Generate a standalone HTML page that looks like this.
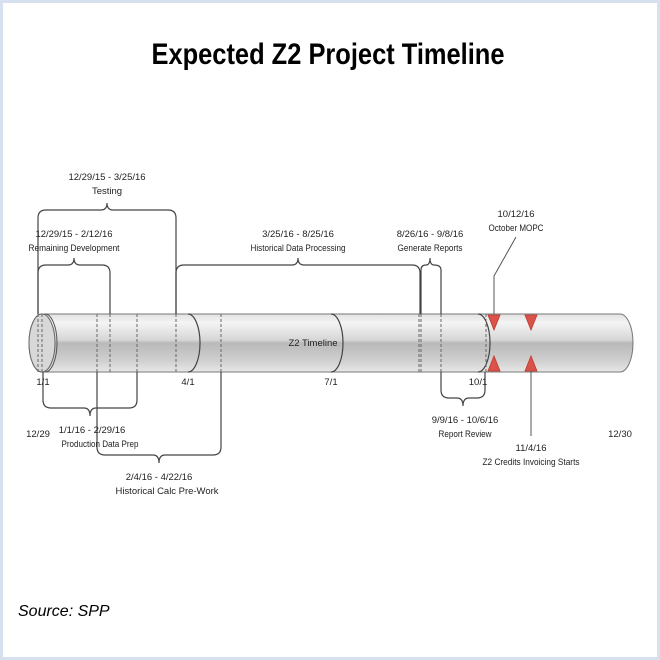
<!DOCTYPE html>
<html><head><meta charset="utf-8"><style>
html,body{margin:0;padding:0;background:#fff}
svg{display:block}
text{font-family:"Liberation Sans",sans-serif;fill:#222}
.s{font-size:9.5px}
</style></head><body>
<svg width="660" height="660" viewBox="0 0 660 660" xmlns="http://www.w3.org/2000/svg">
<defs>
<linearGradient id="cyl" x1="0" y1="0" x2="0" y2="1">
<stop offset="0" stop-color="#e2e2e2"/>
<stop offset="0.15" stop-color="#f4f4f4"/>
<stop offset="0.45" stop-color="#d6d6d6"/>
<stop offset="0.5" stop-color="#b9b9b9"/>
<stop offset="0.8" stop-color="#cfcfcf"/>
<stop offset="1" stop-color="#e8e8e8"/>
</linearGradient>
</defs>
<rect x="1.5" y="1.5" width="657" height="657" fill="#fff" stroke="#d6e0ee" stroke-width="3"/>
<text x="328" y="64" text-anchor="middle" font-size="30" font-weight="bold" textLength="353" lengthAdjust="spacingAndGlyphs" style="fill:#000">Expected Z2 Project Timeline</text>

<!-- cylinder -->
<path d="M42 314 H620 A13 29 0 0 1 620 372 H42 A13 29 0 0 1 42 314 Z" fill="url(#cyl)" stroke="#777" stroke-width="1"/>
<ellipse cx="42" cy="343" rx="13" ry="29" fill="#d8d8d8" stroke="#666" stroke-width="1"/>
<path d="M45 314 A12 29 0 0 1 45 372" fill="none" stroke="#555" stroke-width="1"/>
<g fill="none" stroke="#444" stroke-width="1.2">
<path d="M188 314 A12 29 0 0 1 188 372"/>
<path d="M331 314 A12 29 0 0 1 331 372"/>
<path d="M478 314 A12 29 0 0 1 478 372"/>
</g>
<g stroke="#666" stroke-width="1" stroke-dasharray="3,2">
<line x1="38" y1="314" x2="38" y2="372"/><line x1="42" y1="314" x2="42" y2="372"/>
<line x1="97" y1="314" x2="97" y2="372"/><line x1="110" y1="314" x2="110" y2="372"/>
<line x1="137" y1="314" x2="137" y2="372"/><line x1="176" y1="314" x2="176" y2="372"/>
<line x1="221" y1="314" x2="221" y2="372"/><line x1="419" y1="314" x2="419" y2="372"/>
<line x1="421" y1="314" x2="421" y2="372"/><line x1="441" y1="314" x2="441" y2="372"/>
<line x1="486" y1="314" x2="486" y2="372"/>
</g>
<text class="s" x="313" y="346" text-anchor="middle">Z2 Timeline</text>

<!-- triangles -->
<g fill="#d9534a" stroke="#c0392b" stroke-width="0.8">
<path d="M488 315 H500 L494 330 Z"/><path d="M525 315 H537 L531 330 Z"/>
<path d="M488 371 H500 L494 356 Z"/><path d="M525 371 H537 L531 356 Z"/>
</g>
<g fill="none" stroke="#555" stroke-width="1">
<path d="M494 314 V276 L516 237"/>
<path d="M531 371 V436"/>
</g>

<!-- braces -->
<g fill="none" stroke="#444" stroke-width="1.2">
<path d="M38 314 V218 Q38 210 46 210 H101 Q107 210 107 203 Q107 210 113 210 H168 Q176 210 176 218 V314"/>
<path d="M38 314 V273 Q38 265 46 265 H68 Q74 265 74 258 Q74 265 80 265 H102 Q110 265 110 273 V314"/>
<path d="M176 314 V273 Q176 265 184 265 H292 Q298 265 298 258 Q298 265 304 265 H412 Q420 265 420 273 V314"/>
<path d="M421 314 V270 Q421 265 426 265 Q430 265 430 258 Q430 265 434 265 Q441 265 441 270 V314"/>
<path d="M43 372 V400 Q43 408 51 408 H84 Q90 408 90 416 Q90 408 96 408 H129 Q137 408 137 400 V372"/>
<path d="M97 372 V447 Q97 455 105 455 H153 Q159 455 159 463 Q159 455 165 455 H213 Q221 455 221 447 V372"/>
<path d="M441 372 V390 Q441 398 449 398 H457 Q463 398 463 406 Q463 398 469 398 H477 Q485 398 485 390 V372"/>
</g>

<!-- labels -->
<g class="s" text-anchor="middle">
<text class="s" x="107" y="180">12/29/15 - 3/25/16</text>
<text class="s" x="107" y="194">Testing</text>
<text class="s" x="74" y="237">12/29/15 - 2/12/16</text>
<text class="s" x="74" y="251" textLength="91" lengthAdjust="spacingAndGlyphs">Remaining Development</text>
<text class="s" x="298" y="237">3/25/16 - 8/25/16</text>
<text class="s" x="298" y="251" textLength="95" lengthAdjust="spacingAndGlyphs">Historical Data Processing</text>
<text class="s" x="430" y="237">8/26/16 - 9/8/16</text>
<text class="s" x="430" y="251" textLength="65" lengthAdjust="spacingAndGlyphs">Generate Reports</text>
<text class="s" x="516" y="217">10/12/16</text>
<text class="s" x="516" y="231" textLength="55" lengthAdjust="spacingAndGlyphs">October MOPC</text>
<text class="s" x="43" y="385">1/1</text>
<text class="s" x="188" y="385">4/1</text>
<text class="s" x="331" y="385">7/1</text>
<text class="s" x="478" y="385">10/1</text>
<text class="s" x="38" y="437">12/29</text>
<text class="s" x="620" y="437">12/30</text>
<text class="s" x="92" y="433">1/1/16 - 2/29/16</text>
<text class="s" x="100" y="447" textLength="77" lengthAdjust="spacingAndGlyphs">Production Data Prep</text>
<text class="s" x="159" y="480">2/4/16 - 4/22/16</text>
<text class="s" x="167" y="494" textLength="103" lengthAdjust="spacingAndGlyphs">Historical Calc Pre-Work</text>
<text class="s" x="465" y="423">9/9/16 - 10/6/16</text>
<text class="s" x="465" y="437" textLength="53" lengthAdjust="spacingAndGlyphs">Report Review</text>
<text class="s" x="531" y="451">11/4/16</text>
<text class="s" x="531" y="465" textLength="97" lengthAdjust="spacingAndGlyphs">Z2 Credits Invoicing Starts</text>
</g>
<text x="18" y="616" font-size="16" font-style="italic" style="fill:#000">Source: SPP</text>
</svg>
</body></html>
